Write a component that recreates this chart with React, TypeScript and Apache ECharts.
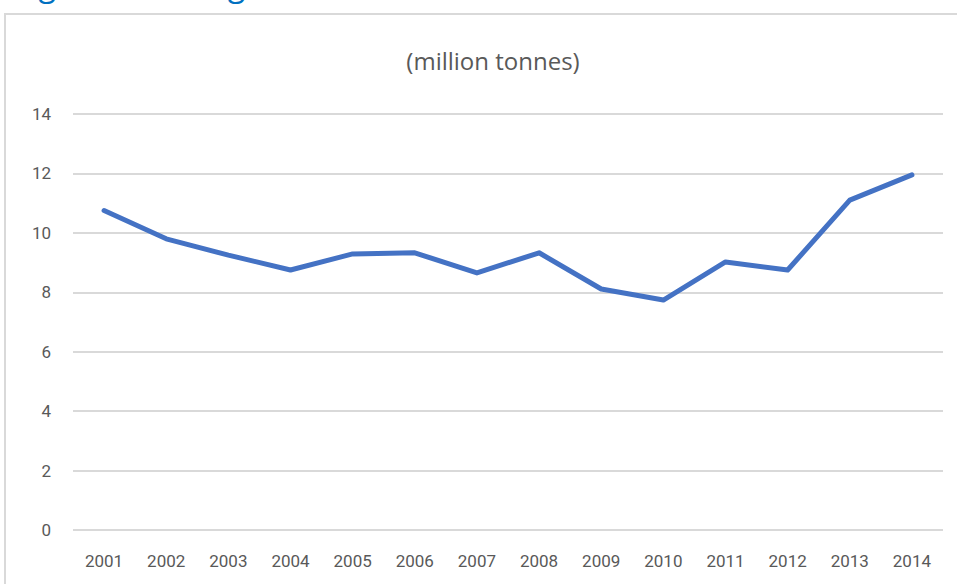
import React, { useEffect, useRef } from "react";
import * as echarts from "echarts";

const years = ["2001","2002","2003","2004","2005","2006","2007","2008","2009","2010","2011","2012","2013","2014"];
const cargo = [10.75, 9.8, 9.25, 8.75, 9.29, 9.33, 8.65, 9.33, 8.11, 7.74, 9.02, 8.75, 11.1, 11.95];
const unitTitle = "(million tonnes)";
const caption = "Figure 3.3: Cargo trade on the River Thames in Greater London";

export default function App() {
  const ref = useRef<HTMLDivElement>(null);
  useEffect(() => {
    const chart = echarts.init(ref.current!, null, { renderer: "svg" });
    chart.setOption({
      animation: false,
      backgroundColor: "#ffffff",
      title: {
        text: unitTitle,
        left: 488,
        textAlign: "center",
        top: 43,
        textStyle: { color: "#595959", fontSize: 24, fontWeight: "normal", fontFamily: "Open Sans" },
      },
      graphic: [
        {
          type: "rect",
          shape: { x: 5, y: 14, width: 1000, height: 1000 },
          style: { fill: "none", stroke: "#d9d9d9", lineWidth: 2 },
          silent: true,
        },
        {
          type: "text",
          left: 14,
          top: -33,
          style: { text: caption, fill: "#0070C0", fontSize: 32, fontFamily: "Open Sans" },
          silent: true,
        },
      ],
      grid: { left: 73, right: 14, top: 114, bottom: 54, containLabel: false },
      xAxis: {
        type: "category",
        data: years,
        boundaryGap: true,
        axisLine: { show: false },
        axisTick: { show: false },
        axisLabel: { color: "#595959", fontSize: 17, fontFamily: "Roboto", margin: 22 },
      },
      yAxis: {
        type: "value",
        min: 0,
        max: 14,
        interval: 2,
        axisLine: { show: false },
        axisTick: { show: false },
        axisLabel: { color: "#595959", fontSize: 17, fontFamily: "Roboto", margin: 22 },
        splitLine: { lineStyle: { color: "#d9d9d9", width: 2 } },
      },
      series: [
        {
          type: "line",
          data: cargo,
          symbol: "none",
          lineStyle: { color: "#4472C4", width: 5, cap: "round", join: "round" },
        },
      ],
    });
    return () => chart.dispose();
  }, []);
  return <div ref={ref} style={{ position: "fixed", left: 0, top: 0, width: 957, height: 584 }} />;
}
